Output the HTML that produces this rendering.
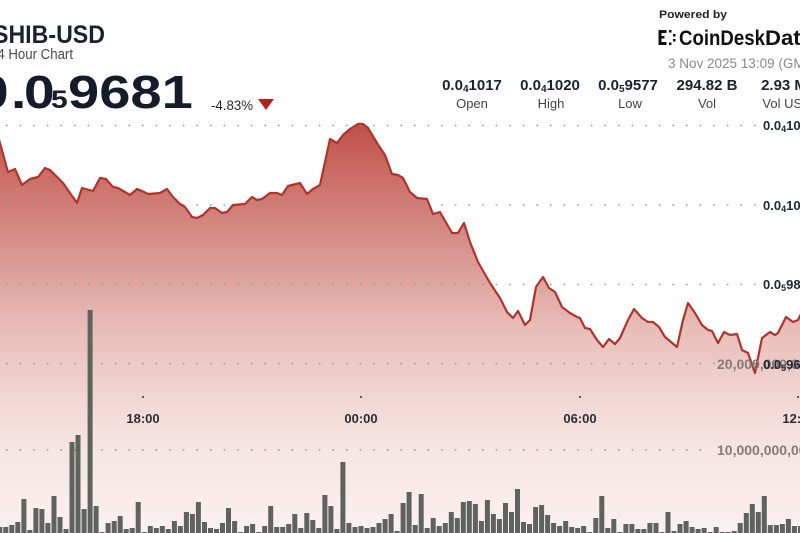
<!DOCTYPE html>
<html><head><meta charset="utf-8"><style>
html,body{margin:0;padding:0;background:#fff;}
svg{display:block;}
</style></head><body>
<svg width="800" height="533" viewBox="0 0 800 533" xmlns="http://www.w3.org/2000/svg" font-family="'Liberation Sans', sans-serif">
<defs>
<linearGradient id="ag" gradientUnits="userSpaceOnUse" x1="0" y1="124" x2="0" y2="533">
<stop offset="0" stop-color="#bf5049"/>
<stop offset="0.11" stop-color="#c96a63"/>
<stop offset="0.31" stop-color="#d8958f"/>
<stop offset="0.5" stop-color="#e8bdb8"/>
<stop offset="0.68" stop-color="#f2d8d5"/>
<stop offset="0.8" stop-color="#f6e5e3"/>
<stop offset="1" stop-color="#fbf1f0"/>
</linearGradient>
</defs>
<rect width="800" height="533" fill="#fff"/>
<path fill="url(#ag)" d="M-2,136 L8,172 L15,169 L22,185 L30,179 L38,177 L45,168 L50,170 L63,183 L77,203 L82,188 L93,191 L100,178 L106,179 L113,187 L118,188 L130,195 L137,189 L142,191 L148,194 L160,193 L167,189 L173,197 L180,204 L185,207 L192,217 L197,218 L203,215 L210,208 L215,208 L222,213 L227,212 L233,205 L245,204 L252,197 L257,200 L262,199 L270,193 L277,193 L282,195 L288,186 L300,183 L307,194 L313,189 L320,185 L330,139 L337,143 L343,135 L350,129 L358,124 L363,124 L368,128 L377,143 L385,155 L392,174 L398,175 L403,178 L410,192 L417,198 L427,199 L433,214 L440,212 L452,233 L458,233 L464,223 L470,242 L478,262 L490,283 L500,298 L507,312 L513,318 L518,311 L525,325 L530,320 L536,287 L543,277 L549,288 L555,292 L562,307 L570,313 L577,317 L580,318 L585,328 L590,329 L597,340 L603,347 L609,339 L615,344 L620,338 L628,320 L634,309 L642,318 L648,322 L653,322 L659,327 L665,337 L677,347 L683,320 L688,303 L695,313 L702,325 L708,330 L712,331 L718,343 L724,332 L730,335 L737,334 L742,350 L748,353 L755,373 L762,338 L770,332 L775,335 L778,333 L786,317 L793,322 L798,320 L802,312 L802,535 L-2,535 Z"/>
<g stroke="#9a9a9a" stroke-width="1.6" stroke-dasharray="1.6 12" fill="none">
<line x1="6" y1="125.5" x2="758" y2="125.5"/>
<line x1="6" y1="205" x2="758" y2="205"/>
<line x1="6" y1="284.5" x2="758" y2="284.5"/>
<line x1="6" y1="363.5" x2="758" y2="363.5"/>
<line x1="6" y1="450" x2="706" y2="450"/>
</g>
<path fill="#5e635d" d="M-2.7,527h5V535h-5Z M3.3,527h5V535h-5Z M9.3,525h5V535h-5Z M15.3,522h5V535h-5Z M21.4,499h5V535h-5Z M27.4,530h5V535h-5Z M33.4,508h5V535h-5Z M39.4,509h5V535h-5Z M45.4,523h5V535h-5Z M51.5,496h5V535h-5Z M57.5,517h5V535h-5Z M63.5,529h5V535h-5Z M69.5,442h5V535h-5Z M75.5,435h5V535h-5Z M81.6,509h5V535h-5Z M87.6,310h5V535h-5Z M93.6,506h5V535h-5Z M99.6,532h5V535h-5Z M105.6,523h5V535h-5Z M111.7,521h5V535h-5Z M117.7,516h5V535h-5Z M123.7,529h5V535h-5Z M129.7,528h5V535h-5Z M135.7,502h5V535h-5Z M141.8,532h5V535h-5Z M147.8,526h5V535h-5Z M153.8,528h5V535h-5Z M159.8,526h5V535h-5Z M165.8,529h5V535h-5Z M171.9,521h5V535h-5Z M177.9,526h5V535h-5Z M183.9,512h5V535h-5Z M189.9,514h5V535h-5Z M195.9,502h5V535h-5Z M202,522h5V535h-5Z M208,528h5V535h-5Z M214,529h5V535h-5Z M220,523h5V535h-5Z M226,508h5V535h-5Z M232.1,521h5V535h-5Z M238.1,532h5V535h-5Z M244.1,526h5V535h-5Z M250.1,524h5V535h-5Z M256.1,532h5V535h-5Z M262.2,526h5V535h-5Z M268.2,506h5V535h-5Z M274.2,527h5V535h-5Z M280.2,527h5V535h-5Z M286.2,524h5V535h-5Z M292.3,514h5V535h-5Z M298.3,528h5V535h-5Z M304.3,513h5V535h-5Z M310.3,520h5V535h-5Z M316.3,528h5V535h-5Z M322.4,495h5V535h-5Z M328.4,506h5V535h-5Z M334.4,529h5V535h-5Z M340.4,462h5V535h-5Z M346.4,523h5V535h-5Z M352.5,527h5V535h-5Z M358.5,526h5V535h-5Z M364.5,528h5V535h-5Z M370.5,527h5V535h-5Z M376.5,523h5V535h-5Z M382.6,519h5V535h-5Z M388.6,514h5V535h-5Z M394.6,531h5V535h-5Z M400.6,503h5V535h-5Z M406.6,492h5V535h-5Z M412.7,525h5V535h-5Z M418.7,494h5V535h-5Z M424.7,528h5V535h-5Z M430.7,518h5V535h-5Z M436.7,526h5V535h-5Z M442.8,523h5V535h-5Z M448.8,512h5V535h-5Z M454.8,518h5V535h-5Z M460.8,502h5V535h-5Z M466.8,501h5V535h-5Z M472.9,504h5V535h-5Z M478.9,521h5V535h-5Z M484.9,500h5V535h-5Z M490.9,514h5V535h-5Z M496.9,519h5V535h-5Z M503,503h5V535h-5Z M509,512h5V535h-5Z M515,489h5V535h-5Z M521,522h5V535h-5Z M527,524h5V535h-5Z M533.1,507h5V535h-5Z M539.1,505h5V535h-5Z M545.1,515h5V535h-5Z M551.1,523h5V535h-5Z M557.1,526h5V535h-5Z M563.2,521h5V535h-5Z M569.2,527h5V535h-5Z M575.2,528h5V535h-5Z M581.2,526h5V535h-5Z M587.2,532h5V535h-5Z M593.3,518h5V535h-5Z M599.3,496h5V535h-5Z M605.3,528h5V535h-5Z M611.3,519h5V535h-5Z M617.3,532h5V535h-5Z M623.4,524h5V535h-5Z M629.4,524h5V535h-5Z M635.4,529h5V535h-5Z M641.4,529h5V535h-5Z M647.4,523h5V535h-5Z M653.5,523h5V535h-5Z M659.5,532h5V535h-5Z M665.5,512h5V535h-5Z M671.5,531h5V535h-5Z M677.5,524h5V535h-5Z M683.6,521h5V535h-5Z M689.6,527h5V535h-5Z M695.6,529h5V535h-5Z M701.6,528h5V535h-5Z M707.6,532h5V535h-5Z M713.7,527h5V535h-5Z M719.7,532h5V535h-5Z M725.7,532h5V535h-5Z M731.7,531h5V535h-5Z M737.7,523h5V535h-5Z M743.8,513h5V535h-5Z M749.8,504h5V535h-5Z M755.8,512h5V535h-5Z M761.8,496h5V535h-5Z M767.8,525h5V535h-5Z M773.9,525h5V535h-5Z M779.9,524h5V535h-5Z M785.9,519h5V535h-5Z M791.9,526h5V535h-5Z M797.9,526h5V535h-5Z"/>
<polyline fill="none" stroke="#b0342c" stroke-width="2.2" stroke-linejoin="round" points="-2,136 8,172 15,169 22,185 30,179 38,177 45,168 50,170 63,183 77,203 82,188 93,191 100,178 106,179 113,187 118,188 130,195 137,189 142,191 148,194 160,193 167,189 173,197 180,204 185,207 192,217 197,218 203,215 210,208 215,208 222,213 227,212 233,205 245,204 252,197 257,200 262,199 270,193 277,193 282,195 288,186 300,183 307,194 313,189 320,185 330,139 337,143 343,135 350,129 358,124 363,124 368,128 377,143 385,155 392,174 398,175 403,178 410,192 417,198 427,199 433,214 440,212 452,233 458,233 464,223 470,242 478,262 490,283 500,298 507,312 513,318 518,311 525,325 530,320 536,287 543,277 549,288 555,292 562,307 570,313 577,317 580,318 585,328 590,329 597,340 603,347 609,339 615,344 620,338 628,320 634,309 642,318 648,322 653,322 659,327 665,337 677,347 683,320 688,303 695,313 702,325 708,330 712,331 718,343 724,332 730,335 737,334 742,350 748,353 755,373 762,338 770,332 775,335 778,333 786,317 793,322 798,320 802,312"/>
<g font-weight="bold" font-size="14" fill="#857b7a">
<text x="717" y="369">20,000,000,000</text>
<text x="717" y="455">10,000,000,000</text>
</g>
<g font-weight="bold" font-size="13" fill="#222831">
<text x="763" y="130">0.0<tspan font-size="9" dy="2">4</tspan><tspan dy="-2">1020</tspan></text>
<text x="763" y="210">0.0<tspan font-size="9" dy="2">4</tspan><tspan dy="-2">1000</tspan></text>
<text x="763" y="289">0.0<tspan font-size="9" dy="2">5</tspan><tspan dy="-2">9800</tspan></text>
<text x="763" y="369">0.0<tspan font-size="9" dy="2">5</tspan><tspan dy="-2">9600</tspan></text>
</g>
<g fill="#333">
<circle cx="143" cy="397" r="1"/>
<circle cx="361" cy="397" r="1"/>
<circle cx="580" cy="397" r="1"/>
<circle cx="798" cy="397" r="1"/>
</g>
<g font-weight="bold" font-size="13" fill="#2a2e36" text-anchor="middle">
<text x="143" y="423">18:00</text>
<text x="361" y="423">00:00</text>
<text x="580" y="423">06:00</text>
<text x="799" y="423">12:00</text>
</g>
<text x="-7" y="43" font-size="25" font-weight="bold" fill="#1a2130" textLength="112" lengthAdjust="spacingAndGlyphs">SHIB-USD</text>
<text x="-10" y="59" font-size="14.5" fill="#4a4a4a" textLength="83" lengthAdjust="spacingAndGlyphs">24 Hour Chart</text>
<g font-weight="bold" fill="#141c2b">
<text transform="translate(-22,108) scale(1.2,1)" font-size="46">0</text>
<text transform="translate(11,108) scale(1.2,1)" font-size="46">.</text>
<text transform="translate(24,108) scale(1.2,1)" font-size="46">0</text>
<text transform="translate(51,108) scale(1.2,1)" font-size="25">5</text>
<text transform="translate(68,108) scale(1.22,1)" font-size="46">9681</text>
</g>
<text x="211" y="110" font-size="14" fill="#2a2a2a" textLength="42" lengthAdjust="spacingAndGlyphs">-4.83%</text>
<polygon points="258,99 274,99 266,110" fill="#b0241c"/>
<text x="659" y="18" font-size="11" font-weight="bold" fill="#222" textLength="68" lengthAdjust="spacingAndGlyphs">Powered by</text>
<g fill="#111">
<rect x="658.5" y="30" width="3" height="15"/>
<rect x="658.5" y="30" width="8" height="3"/>
<rect x="658.5" y="42" width="8" height="3"/>
<rect x="658.5" y="36" width="6" height="2.5"/>
<rect x="669" y="30" width="2.5" height="2.5"/>
<rect x="669" y="42.5" width="2.5" height="2.5"/>
<rect x="673" y="34" width="2.5" height="2.5"/>
<rect x="673" y="39" width="2.5" height="2.5"/>
</g>
<text x="679" y="45" font-size="21" font-weight="bold" fill="#111" textLength="86" lengthAdjust="spacingAndGlyphs">CoinDesk</text>
<text x="765" y="45" font-size="21" font-weight="bold" fill="#111" textLength="48" lengthAdjust="spacingAndGlyphs">Data</text>
<text x="668" y="68" font-size="13.5" fill="#8a8a8a">3 Nov 2025 13:09 (GMT)</text>
<g font-weight="bold" font-size="15" fill="#1a2130" text-anchor="middle">
<text x="472" y="90">0.0<tspan font-size="10" dy="2">4</tspan><tspan dy="-2">1017</tspan></text>
<text x="550" y="90">0.0<tspan font-size="10" dy="2">4</tspan><tspan dy="-2">1020</tspan></text>
<text x="628" y="90">0.0<tspan font-size="10" dy="2">5</tspan><tspan dy="-2">9577</tspan></text>
<text x="707" y="90">294.82 B</text>
<text x="784" y="90">2.93 M</text>
</g>
<g font-size="13" fill="#444" text-anchor="middle">
<text x="472" y="108">Open</text>
<text x="551" y="108">High</text>
<text x="630" y="108">Low</text>
<text x="707" y="108">Vol</text>
<text x="787" y="108">Vol USD</text>
</g>
</svg>
</body></html>
